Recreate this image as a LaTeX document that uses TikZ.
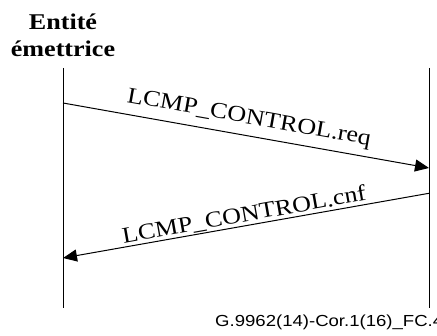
\documentclass[tikz,border=0pt]{standalone}
\usepackage{fontspec}
\setmainfont{Liberation Serif}
\newfontfamily\figsans{Liberation Sans}
\usetikzlibrary{arrows.meta,positioning}
\newcommand{\wide}[1]{\scalebox{1.16}[1]{#1}}
\begin{document}
\begin{tikzpicture}[x=1pt,y=1pt,
        lifeline/.style={line width=1pt},
        msg/.style={line width=1pt,-{Triangle[length=14pt,width=12pt]}},
        msglabel/.style={font=\fontsize{22.5}{27}\selectfont,inner sep=0pt,sloped,anchor=base}]
            \useasboundingbox (0,0) rectangle (437,336);
            \node[font=\bfseries\fontsize{22.5}{26.7}\selectfont,align=center,anchor=north,inner sep=0pt]
                (sender) at (63,322) {\wide{Entité}\\\wide{émettrice}};
            \coordinate (srcTop) at (63,268);
            \coordinate (srcBot) at (63,28);
            \coordinate (dstTop) at (429,268);
            \coordinate (dstBot) at (429,28);
            \draw[lifeline] (srcTop) -- (srcBot);
            \draw[lifeline] (dstTop) -- (dstBot);
            \coordinate (reqA) at (63,233);
            \coordinate (reqB) at (429,168);
            \coordinate (cnfA) at (429,142.7);
            \coordinate (cnfB) at (63,78);
            \draw[msg] (reqA) -- node[msglabel,yshift=12pt] (req) {\wide{LCMP\_CONTROL.req}} (reqB);
            \draw[msg] (cnfA) -- node[msglabel,yshift=4pt] (cnf) {\wide{LCMP\_CONTROL.cnf}} (cnfB);
            \node[font=\figsans\fontsize{16}{19}\selectfont,anchor=base west,inner sep=0pt]
                (figid) at (215,9) {\wide{G.9962(14)-Cor.1(16)\_FC.4}};
        \end{tikzpicture}
\end{document}
